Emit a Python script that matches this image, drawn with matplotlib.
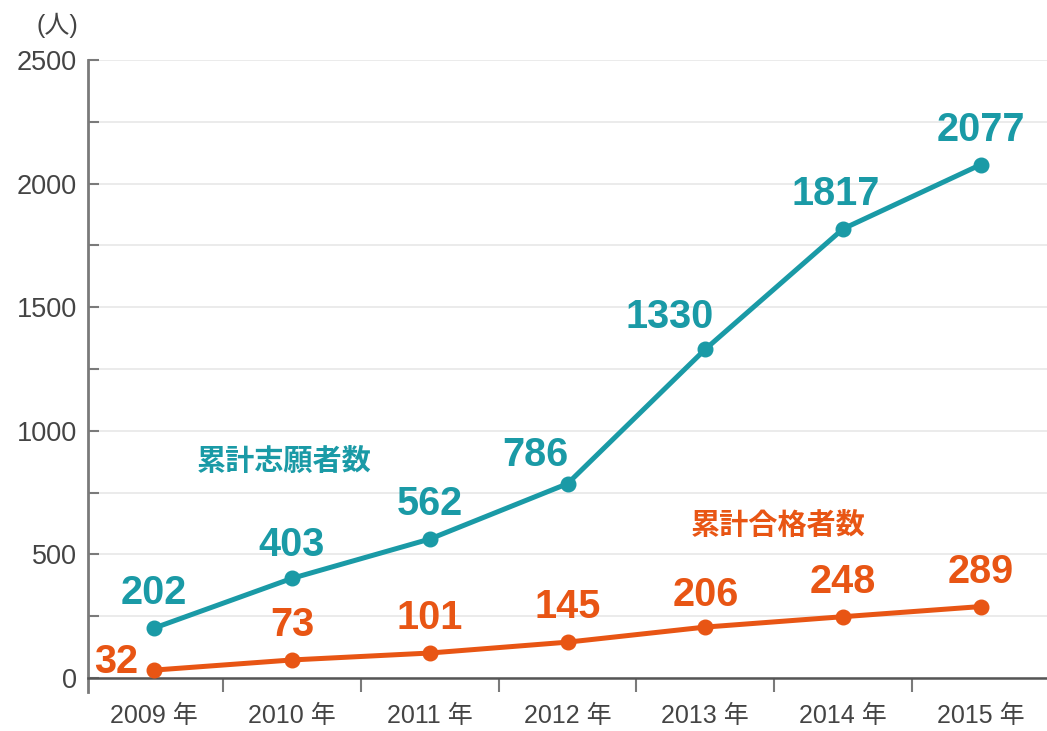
import matplotlib
matplotlib.use("Agg")
import matplotlib.pyplot as plt
from matplotlib.ticker import MultipleLocator

plt.rcParams['font.family'] = ['Liberation Sans', 'Noto Sans CJK JP', 'DejaVu Sans']

years = ["2009 年", "2010 年", "2011 年", "2012 年", "2013 年", "2014 年", "2015 年"]
applicants = [202, 403, 562, 786, 1330, 1817, 2077]
passed = [32, 73, 101, 145, 206, 248, 289]
applicant_label = "累計志願者数"
passed_label = "累計合格者数"

teal = "#1a9aa6"
orange = "#e85514"
text_gray = "#444444"
axis_gray = "#7a7a7a"
cjk = ['Noto Sans CJK JP', 'DejaVu Sans']

fig = plt.figure(figsize=(10.47, 7.31), dpi=100)
ax = fig.add_axes([88/1047, 1 - 678/731, 1 - 88/1047, (678 - 60)/731])

x = list(range(len(years)))
ax.plot(x, applicants, color=teal, lw=3.6, marker='o', ms=10.5, zorder=3, clip_on=False)
ax.plot(x, passed, color=orange, lw=3.6, marker='o', ms=10.5, zorder=3, clip_on=False)

# label offsets (points)
app_off = [(0, 25), (0, 24), (0, 25), (-23, 21), (-26, 23), (-5, 25), (0, 25)]
pas_off = [(-27, 6), (0, 25), (0, 25), (0, 25), (0, 23), (0, 25), (0, 25)]
for i, v in enumerate(applicants):
    ax.annotate(str(v), (i, v), xytext=app_off[i], textcoords='offset points',
                ha='center', va='center', color=teal, fontsize=28.5, fontweight='bold')
for i, v in enumerate(passed):
    ax.annotate(str(v), (i, v), xytext=pas_off[i], textcoords='offset points',
                ha='center', va='center', color=orange, fontsize=28.5, fontweight='bold')

ax.text(0.94, 878, applicant_label, color=teal, fontsize=21, fontweight='bold',
        ha='center', va='center', family=cjk)
ax.text(4.53, 619, passed_label, color=orange, fontsize=21, fontweight='bold',
        ha='center', va='center', family=cjk)

ax.set_xlim(-0.48, 6.48)
ax.set_ylim(0, 2500)
ax.set_xticks(x)
ax.set_xticklabels(years)
ax.set_xticks([i + 0.5 for i in range(6)], minor=True)
ax.tick_params(axis='x', which='major', length=0, pad=19, labelsize=18, labelcolor=text_gray)
ax.tick_params(axis='x', which='minor', length=10, width=1.5, color=axis_gray, direction='out')

ax.yaxis.set_major_locator(MultipleLocator(500))
ax.yaxis.set_minor_locator(MultipleLocator(250))
ax.tick_params(axis='y', which='both', length=8, width=1.5, color=axis_gray, direction='in',
               labelsize=19.5, labelcolor=text_gray, pad=8)
ax.grid(True, which='both', axis='y', color='#e8e8e8', lw=1.2, zorder=0)
ax.set_axisbelow(True)

for s in ['top', 'right']:
    ax.spines[s].set_visible(False)
ax.spines['left'].set_color(axis_gray)
ax.spines['left'].set_linewidth(2)
ax.spines['left'].set_bounds(-57, 2500)
ax.spines['bottom'].set_color('#555555')
ax.spines['bottom'].set_linewidth(1.8)

fig.text(57/1047, 1 - 25/731, "(人)", fontsize=18, color=text_gray, ha='center', va='center')

fig.savefig("out.png", dpi=100)
